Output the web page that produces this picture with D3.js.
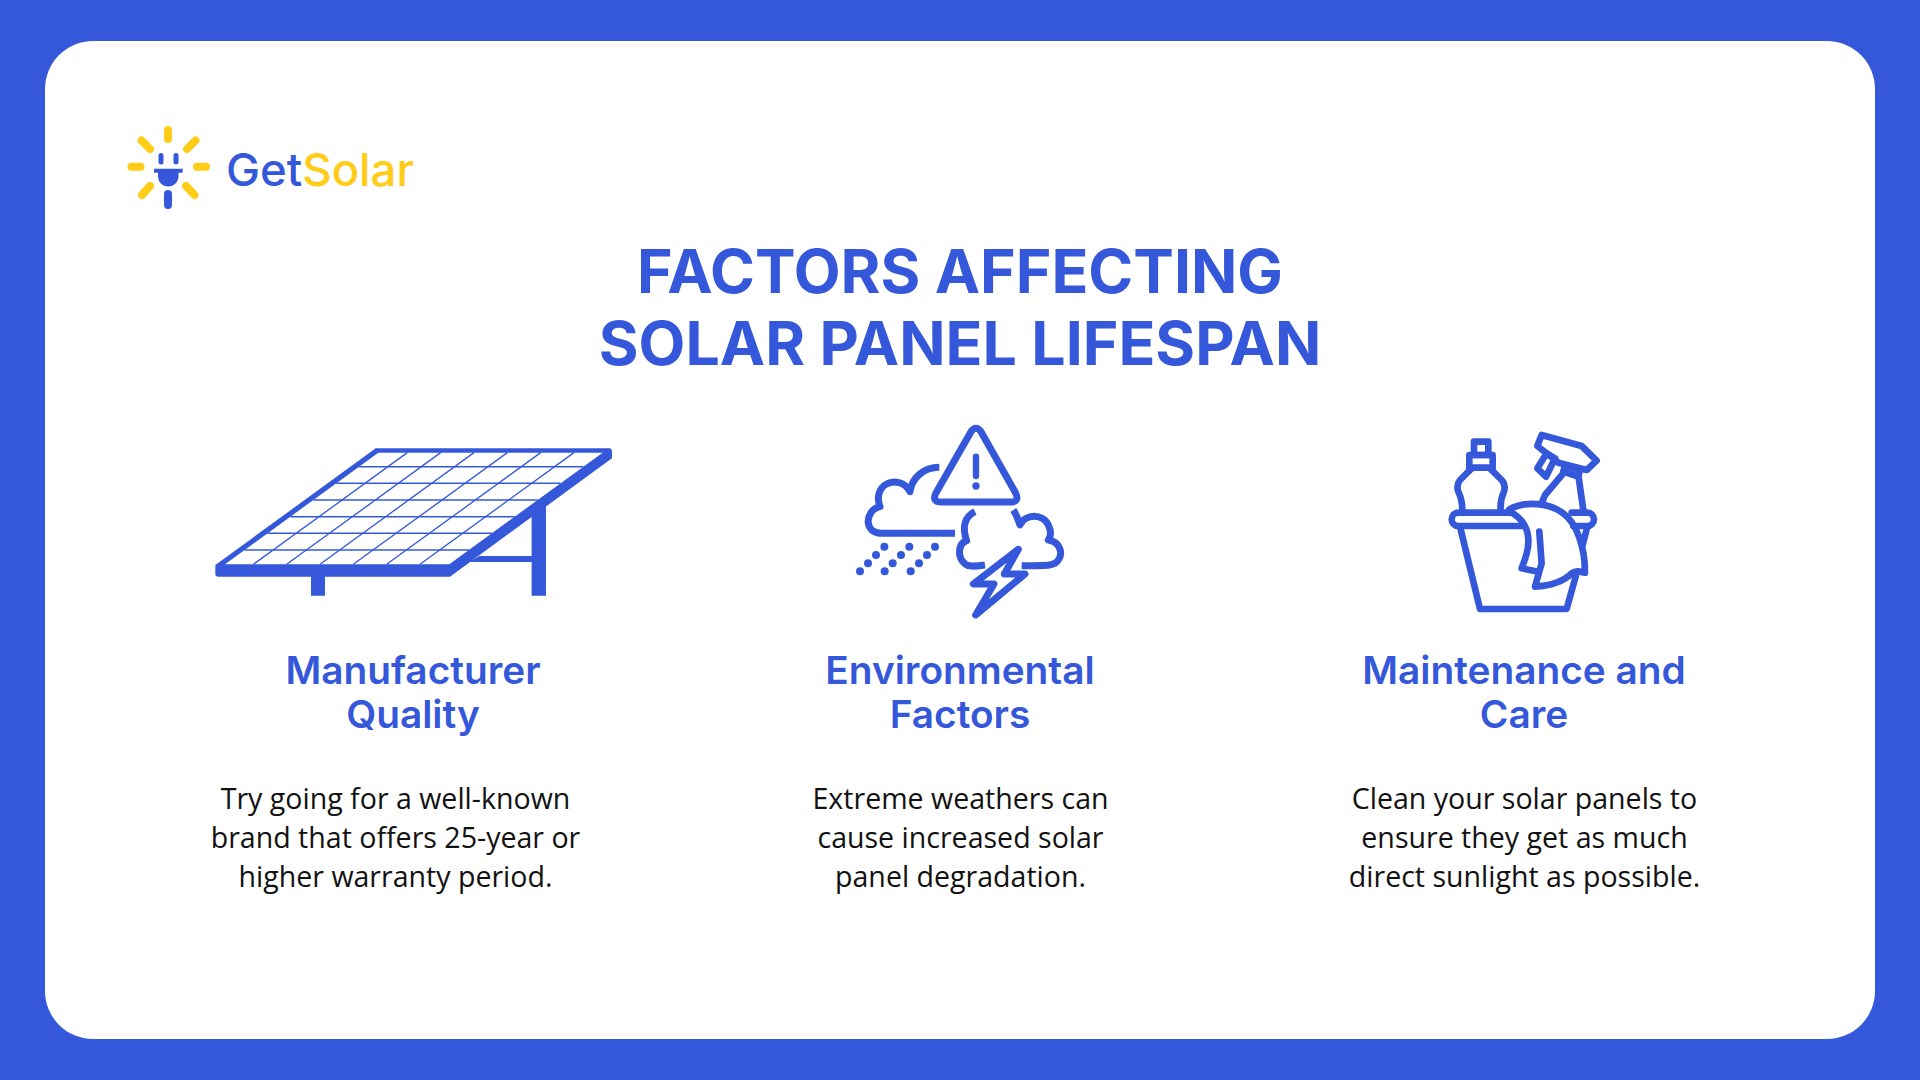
<!DOCTYPE html>
<html>
<head>
<meta charset="utf-8">
<title>Factors affecting solar panel lifespan</title>
<script src="https://cdn.jsdelivr.net/npm/d3@7/dist/d3.min.js"></script>
<style>
  html, body { margin: 0; padding: 0; background: #3558db; overflow: hidden; }
  svg { display: block; }
</style>
</head>
<body>
<svg id="chart" width="1920" height="1080"></svg>
<script>
// content
const brandParts = ['Get', 'Solar'];
const titleLines = ['FACTORS AFFECTING', 'SOLAR PANEL LIFESPAN'];
const factorNames = [
  ['Manufacturer', 'Quality'],
  ['Environmental', 'Factors'],
  ['Maintenance and', 'Care']
];
const factorNotes = [
  ['Try going for a well-known', 'brand that offers 25-year or', 'higher warranty period.'],
  ['Extreme weathers can', 'cause increased solar', 'panel degradation.'],
  ['Clean your solar panels to', 'ensure they get as much', 'direct sunlight as possible.']
];
const panelColumns = [1, 2, 3, 4, 5, 6];
const panelRows = [42, 92, 142, 192, 242, 292];

const blue = '#3558db';
const yellow = '#ffcc17';

const svg = d3.select('#chart');

svg.append('rect').attr('width', 1920).attr('height', 1080).attr('fill', blue);
svg.append('rect')
  .attr('x', 45).attr('y', 41)
  .attr('width', 1830).attr('height', 998)
  .attr('rx', 48)
  .attr('fill', '#fff');

// logo
const logo = svg.append('g');
const rays = [
  [168, 130, 168, 139], [131.5, 166.7, 140.5, 166.7], [197, 166.7, 206, 166.7],
  [141.5, 140.5, 150, 149], [195.5, 140.5, 187, 149], [150, 186, 142, 195], [186, 186, 194.5, 195]
];
logo.selectAll('line.ray').data(rays).join('line')
  .attr('class', 'ray')
  .attr('x1', d => d[0]).attr('y1', d => d[1])
  .attr('x2', d => d[2]).attr('y2', d => d[3])
  .attr('stroke', yellow).attr('stroke-width', 8).attr('stroke-linecap', 'round');
logo.append('path')
  .attr('d', 'M161 155.5V162M176 155.5V162')
  .attr('stroke', blue).attr('stroke-width', 5).attr('fill', 'none').attr('stroke-linecap', 'round');
logo.append('line')
  .attr('x1', 168).attr('x2', 168).attr('y1', 194).attr('y2', 205)
  .attr('stroke', blue).attr('stroke-width', 8).attr('stroke-linecap', 'round');
logo.append('path')
  .attr('d', 'M154 168.7H182.7V172.7H178.5V176C178.5 182 174 186.5 168.3 186.5C162.5 186.5 158 182 158 176V172.7H154Z')
  .attr('fill', blue);

const brand = svg.append('text')
  .attr('x', 226).attr('y', 185.5)
  .attr('font-family', 'Inter, sans-serif')
  .attr('font-size', 45.5).attr('font-weight', 500);
brand.selectAll('tspan').data(brandParts).join('tspan')
  .attr('fill', (d, i) => i === 0 ? blue : yellow)
  .text(d => d);

// heading
svg.append('g').selectAll('text').data(titleLines).join('text')
  .attr('x', 960)
  .attr('y', (d, i) => 293 + i * 72)
  .attr('text-anchor', 'middle')
  .attr('font-family', 'Inter, sans-serif')
  .attr('font-size', 60.8).attr('font-weight', 700)
  .attr('fill', blue)
  .text(d => d);

// the three columns
const nameCenters = [413, 960, 1524];
const noteCenters = [395.5, 960.5, 1524.5];

const names = svg.append('g').selectAll('g').data(factorNames).join('g')
  .attr('transform', (d, i) => `translate(${nameCenters[i]},0)`);
names.selectAll('text').data(d => d).join('text')
  .attr('y', (d, i) => 684 + i * 44)
  .attr('text-anchor', 'middle')
  .attr('font-family', 'Inter, sans-serif')
  .attr('font-size', 38.8).attr('font-weight', 600)
  .attr('fill', blue)
  .text(d => d);

const notes = svg.append('g').selectAll('g').data(factorNotes).join('g')
  .attr('transform', (d, i) => `translate(${noteCenters[i]},0)`);
notes.selectAll('text').data(d => d).join('text')
  .attr('y', (d, i) => 809 + i * 39.2)
  .attr('text-anchor', 'middle')
  .attr('font-family', '"Open Sans", sans-serif')
  .attr('font-size', 28.55).attr('font-weight', 400)
  .attr('fill', '#111')
  .text(d => d);

// solar panel icon, drawn in its own 3x space
const panel = svg.append('g').attr('transform', 'translate(200,430) scale(0.3333)');
panel.append('path')
  .attr('fill-rule', 'evenodd')
  .attr('fill', blue)
  .attr('d', 'M527 55H1228Q1236 55 1236 65V85L750 440H55Q46 440 46 432V405Z M535 68L75 403H748L1208 68Z');
const rowY = d3.scaleLinear().domain([0, 335]).range([68, 403]);
const rowLeft = d3.scaleLinear().domain([0, 335]).range([535, 75]);
panel.selectAll('line.row').data(panelRows).join('line')
  .attr('class', 'row')
  .attr('x1', d => rowLeft(d))
  .attr('x2', d => rowLeft(d) + 673)
  .attr('y1', d => rowY(d))
  .attr('y2', d => rowY(d))
  .attr('stroke', blue).attr('stroke-width', 4.5);
const colX = d3.scaleLinear().domain([0, 7]).range([60, 760]);
panel.selectAll('line.col').data(panelColumns).join('line')
  .attr('class', 'col')
  .attr('x1', d => colX(d))
  .attr('x2', d => colX(d) + 462)
  .attr('y1', 403).attr('y2', 68)
  .attr('stroke', blue).attr('stroke-width', 4);
panel.append('path')
  .attr('fill', blue)
  .attr('d', 'M333 438H375V497H333Z M995 245L1038 215V497H995V396H808L838 378H995Z');

// weather icon
const weather = svg.append('g')
  .attr('transform', 'translate(840,410) scale(0.3333)')
  .attr('fill', 'none').attr('stroke', blue)
  .attr('stroke-width', 21).attr('stroke-linejoin', 'round');
weather.append('path').attr('d', 'M393 65Q408 45 423 65L525 245Q542 276 510 276H305Q272 276 290 245Z');
weather.append('path').attr('d', 'M408 140V198').attr('stroke-linecap', 'round').attr('stroke-width', 19);
weather.append('circle').attr('cx', 408).attr('cy', 228).attr('r', 11).attr('fill', blue).attr('stroke', 'none');
weather.append('path').attr('d', 'M298 172C250 172 215 205 210 245C195 215 160 210 140 222C115 235 110 265 120 290C95 295 82 320 85 340C88 360 105 370 125 370H345');
weather.append('path').attr('d', 'M405 305C375 320 365 350 380 392C355 400 350 440 375 462C385 470 400 470 435 465');
weather.append('path').attr('d', 'M520 300C530 315 535 330 540 345C555 310 610 310 625 345C635 365 632 380 625 390C660 395 670 430 655 450C645 467 630 467 545 467');
weather.append('path').attr('d', 'M535 418L400 522H462L407 615L555 492H493Z');
weather.selectAll('circle.rain')
  .data([[133, 410], [108, 435], [84, 460], [60, 484], [208, 410], [183, 435], [158, 460], [134, 484], [285, 410], [261, 435], [237, 460], [212, 484]])
  .join('circle').attr('class', 'rain')
  .attr('cx', d => d[0]).attr('cy', d => d[1]).attr('r', 12)
  .attr('fill', blue).attr('stroke', 'none');

// cleaning bucket icon
const bucket = svg.append('g')
  .attr('transform', 'translate(1430,420) scale(0.3333)')
  .attr('fill', 'none').attr('stroke', blue)
  .attr('stroke-width', 20).attr('stroke-linejoin', 'round').attr('stroke-linecap', 'round');
bucket.selectAll('path').data([
  'M132 65H175V105H132Z',
  'M118 105H188V143H118Z',
  'M125 145L90 180Q78 195 85 215Q97 240 97 270',
  'M180 145L215 180Q228 195 222 215Q210 240 212 270',
  'M240 278H85A20 20 0 0 0 85 318H280',
  'M425 278H472A20 20 0 0 1 472 318H430',
  'M90 320L150 567H410L437 470',
  'M472 320L458 375',
  'M335 45L455 78L500 122L470 150L385 128L322 78Z',
  'M350 100L375 115L348 170L322 145Z',
  'M405 135L450 150L445 170L400 155Z',
  'M400 160L345 225L335 250',
  'M445 165L460 270',
  'M238 268C290 240 360 250 400 280C440 310 465 380 465 458C450 455 440 450 425 460C400 485 360 497 315 500L335 430L328 335',
  'M240 275C280 295 295 330 295 360C297 390 285 420 275 445L325 455'
]).join('path').attr('d', d => d);
</script>
</body>
</html>
